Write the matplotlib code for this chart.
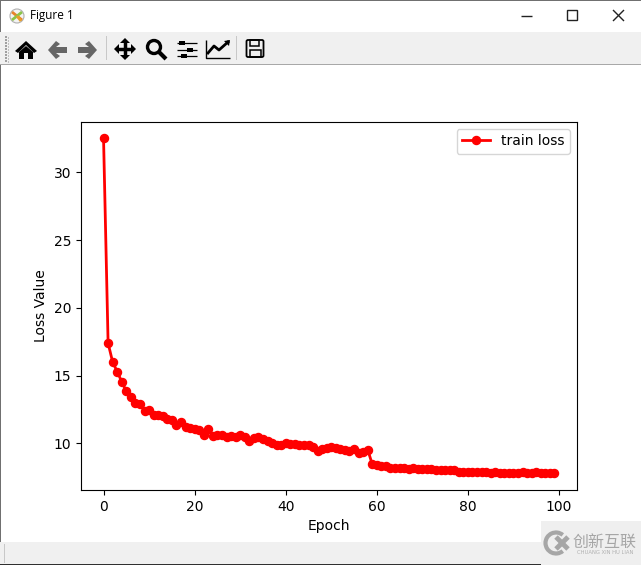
"""Training loss curve inside a mock of the matplotlib window."""
import matplotlib
matplotlib.use("Agg")
import matplotlib.pyplot as plt
import matplotlib.patches as patches

W, H = 641, 565

epochs = list(range(100))
train_loss = [
    32.5, 17.4, 16.0, 15.3, 14.55, 13.85, 13.4, 12.97, 12.93, 12.4,
    12.5, 12.1, 12.1, 12.05, 11.8, 11.7, 11.35, 11.55, 11.25, 11.15,
    11.05, 10.96, 10.6, 11.05, 10.55, 10.6, 10.65, 10.5, 10.55, 10.5,
    10.6, 10.5, 10.17, 10.42, 10.45, 10.35, 10.17, 10.0, 9.88, 9.88,
    10.05, 9.95, 9.93, 9.9, 9.85, 9.85, 9.75, 9.46, 9.6, 9.7,
    9.73, 9.65, 9.6, 9.55, 9.45, 9.6, 9.3, 9.4, 9.55, 8.45,
    8.4, 8.3, 8.3, 8.2, 8.22, 8.2, 8.2, 8.15, 8.22, 8.12,
    8.12, 8.12, 8.1, 8.03, 8.05, 8.03, 8.05, 8.02, 7.92, 7.9,
    7.9, 7.9, 7.88, 7.9, 7.88, 7.85, 7.9, 7.82, 7.84, 7.8,
    7.82, 7.84, 7.9, 7.8, 7.84, 7.9, 7.82, 7.84, 7.8, 7.82,
]
x_ticks = [0, 20, 40, 60, 80, 100]
y_ticks = [10, 15, 20, 25, 30]


def draw_chrome(fig):
    bg = fig.add_axes([0, 0, 1, 1], zorder=0)
    bg.set_xlim(0, W)
    bg.set_ylim(H, 0)
    bg.axis("off")

    def rect(x, y, w, h, color, z=1):
        bg.add_patch(patches.Rectangle((x, y), w, h, color=color, lw=0, zorder=z))

    def line(xs, ys, color="black", lw=1.5):
        bg.plot(xs, ys, color=color, lw=lw, solid_capstyle="butt", zorder=3)

    def poly(points, color="black"):
        bg.add_patch(patches.Polygon(points, closed=True, color=color, lw=0, zorder=3))

    # window frame and bars
    rect(0, 0, W, 1, "#707070")
    rect(0, 0, 1, H, "#707070")
    rect(0, 32, W, 32, "#f0f0f0")
    rect(0, 64, W, 1, "#a8a8a8")
    rect(0, 542, W, 23, "#f0f0f0")
    rect(0, 564, W, 1, "#303030")
    rect(4, 544, 1, 19, "#c8c8c8")

    # title bar
    bg.add_patch(patches.Circle((17, 16), 7, fc="#f4f4f4", ec="#b0b0b0", lw=0.8, zorder=3))
    line([12, 22], [12, 20], "#e8832a", 2)
    line([12, 22], [20, 12], "#8bc34a", 2)
    line([17, 21], [16, 21], "#e8a02a", 2)
    bg.text(30, 16, "Figure 1", fontsize=8.5, family="Open Sans", va="center", zorder=3)
    line([521, 532], [15.5, 15.5], "#222222", 1)
    bg.add_patch(patches.Rectangle((567, 10), 10, 10, fc="none", ec="#222222", lw=1, zorder=3))
    line([613, 624], [10, 21], "#222222", 1)
    line([613, 624], [21, 10], "#222222", 1)

    # toolbar
    for gy in range(36, 62, 3):
        rect(5, gy, 1.5, 1.5, "#a0a0a0", 2)
        rect(7.5, gy + 1, 1.5, 1.5, "#c0c0c0", 2)
    rect(106, 36, 1, 24, "#c8c8c8", 2)
    rect(236, 36, 1, 24, "#c8c8c8", 2)

    # home
    poly([(15, 51), (26, 41), (37, 51), (34, 53), (26, 45), (18, 53)])
    poly([(19, 52), (26, 46), (33, 52), (33, 59), (28, 59), (28, 53), (24, 53), (24, 59), (19, 59)])
    # back / forward
    gray = "#666666"
    poly([(48, 50), (56, 41), (60, 44), (56, 47), (67, 47), (67, 53), (56, 53), (60, 56), (56, 59)], gray)
    poly([(97, 50), (89, 41), (85, 44), (89, 47), (78, 47), (78, 53), (89, 53), (85, 56), (89, 59)], gray)
    # move
    line([125, 125], [41, 57], lw=2.5)
    line([117, 133], [49, 49], lw=2.5)
    poly([(125, 38), (120, 43), (130, 43)])
    poly([(125, 60), (120, 55), (130, 55)])
    poly([(114, 49), (119, 44), (119, 54)])
    poly([(136, 49), (131, 44), (131, 54)])
    # zoom
    bg.add_patch(patches.Circle((154, 47), 6.5, fc="none", ec="black", lw=2.4, zorder=3))
    line([159, 166], [52, 59], lw=3)
    # sliders
    for sy, sx in ((43, 182), (49.5, 190), (56, 184)):
        line([177, 197], [sy, sy], lw=0.9)
        rect(sx - 3, sy - 2, 6, 4, "black", 3)
    # chart
    line([206, 206, 230], [40, 57.5, 57.5], lw=1)
    bg.plot([208, 214, 219, 228], [53, 46, 50, 42], color="black", lw=2, zorder=3)
    poly([(230, 40), (224, 41), (229, 46)])
    # save
    bg.add_patch(patches.FancyBboxPatch((246.5, 40), 17, 17, boxstyle="round,pad=0,rounding_size=1.5",
                                        fc="none", ec="black", lw=1.3, zorder=3))
    bg.add_patch(patches.Rectangle((250, 40), 9, 6, fc="none", ec="black", lw=1.1, zorder=3))
    bg.add_patch(patches.Rectangle((249.5, 50), 11, 7, fc="none", ec="black", lw=1.1, zorder=3))

    # watermark
    rect(541, 521, 100, 44, "#efefef", 2)
    bg.add_patch(patches.Arc((556, 543), 21, 21, theta1=50, theta2=310, color="#a6a6a6", lw=3, zorder=3))
    line([556, 568], [537, 549], "#a6a6a6", 3.5)
    line([556, 568], [549, 537], "#a6a6a6", 3.5)
    bg.text(605, 542, "创新互联", fontsize=11.5, color="#a6a6a6", family="Noto Sans CJK SC",
            ha="center", va="center", zorder=3)
    bg.text(605, 552, "CHUANG XIN HU LIAN", fontsize=3.8, color="#b0b0b0", ha="center", va="center", zorder=3)


fig = plt.figure(figsize=(W / 100, H / 100), dpi=100, facecolor="white")
draw_chrome(fig)

left, right, top, bottom = 81, 577, 121.8, 489.8
ax = fig.add_axes([left / W, 1 - bottom / H, (right - left) / W, (bottom - top) / H], zorder=2)
ax.plot(epochs, train_loss, color="red", lw=2, marker="o", markersize=5.8, label="train loss")
ax.set_xticks(x_ticks)
ax.set_yticks(y_ticks)
ax.set_xlim(-4.95, 103.95)
ax.set_ylim(6.58, 33.73)
ax.set_xlabel("Epoch")
ax.set_ylabel("Loss Value", labelpad=4)
ax.legend(loc="upper right")

fig.savefig("out.png", dpi=100)
